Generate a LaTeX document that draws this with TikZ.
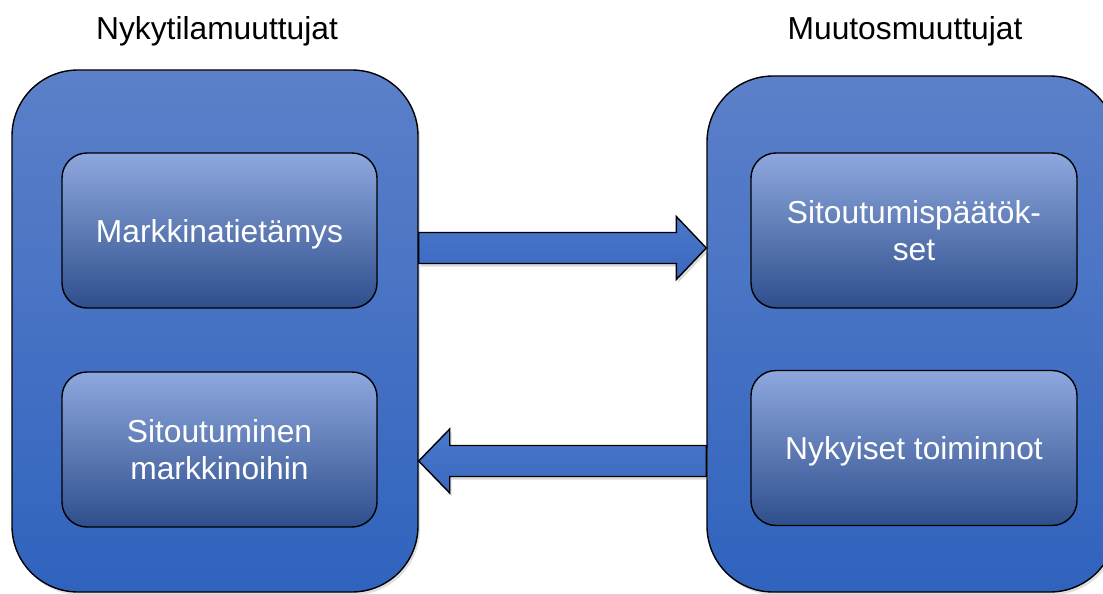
\documentclass[tikz,border=0pt]{standalone}
\usepackage{fontspec}
\setmainfont{Liberation Sans}
\usetikzlibrary{calc,shadows}
\definecolor{outerTop}{RGB}{92,128,201}
\definecolor{outerBot}{RGB}{48,99,190}
\definecolor{innerTop}{RGB}{142,168,222}
\definecolor{innerMid}{RGB}{74,112,194}
\definecolor{innerBot}{RGB}{46,78,140}
\definecolor{arrowTop}{RGB}{74,120,202}
\definecolor{arrowBot}{RGB}{58,104,192}
\begin{document}
\begin{tikzpicture}[x=1pt,y=-1pt,
    outer/.style={draw=black,line width=1.4pt,rounded corners=66pt,
        top color=outerTop,bottom color=outerBot,
        drop shadow={opacity=0.25,shadow xshift=2pt,shadow yshift=-3pt}},
    inner/.style={draw=black,line width=1.4pt,rounded corners=25pt,
        top color=innerTop,middle color=innerMid,bottom color=innerBot,
        text=white,align=center,inner sep=0pt,
        minimum width=315pt,minimum height=155pt,
        font=\fontsize{31.75}{37}\selectfont},
    title/.style={font=\fontsize{31.75}{37}\selectfont},
    blockarrow/.style={draw=black,line width=1.4pt,line join=miter,
        top color=arrowTop,bottom color=arrowBot,
        drop shadow={opacity=0.3,shadow xshift=2pt,shadow yshift=-3pt}}]

  \useasboundingbox (0,0) rectangle (1103,594);

  % left column
  \node[outer,minimum width=406pt,minimum height=522pt] (left) at (215,331) {};
  \node[title] (lefttitle) at (217,31) {Nykytilamuuttujat};
  \node[inner,text depth=0pt] (market) at (219.5,230.5) {Markkinatietämys};
  \node[inner] (commit) at (219.5,449.5) {Sitoutuminen\\markkinoihin};

  % right column (runs past the page edge)
  \node[outer,minimum width=409pt,minimum height=516pt] (right) at (911.5,334) {};
  \node[title] (righttitle) at (905,31) {Muutosmuuttujat};
  \node[inner,minimum width=326pt] (decision) at (914,230.5) {Sitoutumispäätök-\\set};
  \node[inner,minimum width=326pt,text depth=0pt] (activity) at (914,448) {Nykyiset toiminnot};

  % block arrows
  \coordinate (fwdtail) at ([yshift=83pt]left.east);
  \coordinate (fwdtip) at (right.west |- fwdtail);
  \draw[blockarrow] ($(fwdtail)+(0,-15.5)$) -- ($(fwdtip)+(-30,-15.5)$)
      -- ($(fwdtip)+(-30,-31.5)$) -- (fwdtip) -- ($(fwdtip)+(-30,31.5)$)
      -- ($(fwdtip)+(-30,15.5)$) -- ($(fwdtail)+(0,15.5)$) -- cycle;

  \coordinate (backtail) at ([yshift=-127pt]right.west);
  \coordinate (backtip) at (left.east |- backtail);
  \draw[blockarrow] ($(backtail)+(0,-15.5)$) -- ($(backtip)+(31,-15.5)$)
      -- ($(backtip)+(31,-32)$) -- (backtip) -- ($(backtip)+(31,32)$)
      -- ($(backtip)+(31,15.5)$) -- ($(backtail)+(0,15.5)$) -- cycle;

\end{tikzpicture}
\end{document}
